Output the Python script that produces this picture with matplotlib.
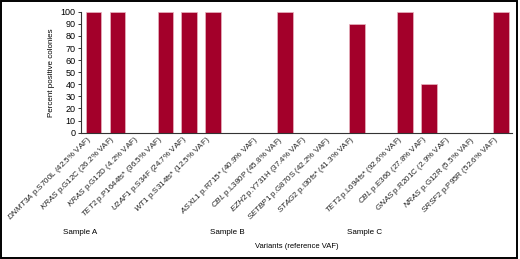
import matplotlib
matplotlib.use("Agg")
import matplotlib.pyplot as plt
from matplotlib.patches import Rectangle

plt.rcParams["font.family"] = ["Liberation Sans", "DejaVu Sans"]
plt.rcParams["mathtext.fontset"] = "custom"
plt.rcParams["mathtext.it"] = "Liberation Sans:italic"
plt.rcParams["mathtext.rm"] = "Liberation Sans"

# categories (blank strings are the gaps between samples)
genes = ["DNMT3A", "KRAS", "KRAS", "TET2", "U2AF1", "WT1",
         "",
         "ASXL1", "CBL", "EZH2", "SETBP1", "STAG2",
         "",
         "TET2", "CBL", "GNAS", "NRAS", "SRSF2"]
changes = ["p.S700L (42.5% VAF)", "p.G12C (26.2% VAF)", "p.G12D (4.2% VAF)",
           "p.P1644fs* (36.5% VAF)", "p.S34F (24.7% VAF)", "p.S314fs* (12.5% VAF)",
           "",
           "p.R715* (40.9% VAF)", "p.L380P (45.8% VAF)", "p.Y731H (37.4% VAF)",
           "p.G870S (42.2% VAF)", "p.I30fs* (41.3% VAF)",
           "",
           "p.L694fs* (92.6% VAF)", "p.E366 (27.8% VAF)", "p.R201C (2.9% VAF)",
           "p.G12R (5.5% VAF)", "p.P95R (52.6% VAF)"]
percent_positive = [100, 100, 0, 100, 100, 100,
                    0,
                    0, 100, 0, 0, 90,
                    0,
                    100, 40, 0, 0, 100]
samples = ["Sample A", "Sample B", "Sample C"]
sample_x = [80, 227, 365]  # pixel centres under each group

labels = [f"$\\mathit{{{g}}}$ {c}" if g else "" for g, c in zip(genes, changes)]

W, H = 520, 259
fig = plt.figure(figsize=(W / 100, H / 100), dpi=100)
ax = fig.add_axes([81 / W, 1 - 132.7 / H, (512 - 81) / W, (132.7 - 11.7) / H])

x = list(range(len(labels)))
ax.bar(x, percent_positive, width=0.66, color="#a3002a",
       edgecolor="#e8b5c0", linewidth=0.5)

ax.set_xlim(-0.52, 17.45)
ax.set_ylim(0, 100)
ax.set_yticks(range(0, 101, 10))
ax.tick_params(axis="y", labelsize=6.5, length=2.5, width=0.7, pad=1.5, color="#333")
ax.set_xticks(x)
ax.set_xticklabels(labels, rotation=45, ha="right", fontsize=5.8, color="#222")
ax.tick_params(axis="x", length=0, pad=1)
for s in ["top", "right"]:
    ax.spines[s].set_visible(False)
for s in ["left", "bottom"]:
    ax.spines[s].set_linewidth(0.8)
    ax.spines[s].set_color("#333")

ax.set_ylabel("Percent positive colonies", fontsize=5.8, labelpad=4)

for name, px in zip(samples, sample_x):
    fig.text(px / W, 1 - 233 / H, name, fontsize=5.8, ha="center", va="center")
fig.text(297 / W, 1 - 246 / H, "Variants (reference VAF)", fontsize=5.5,
         ha="center", va="center")

fig.patches.append(Rectangle((0.002, 0.004), 0.993, 0.993, transform=fig.transFigure,
                             fill=False, edgecolor="black", linewidth=1.4))

fig.savefig("out.png", dpi=100)
